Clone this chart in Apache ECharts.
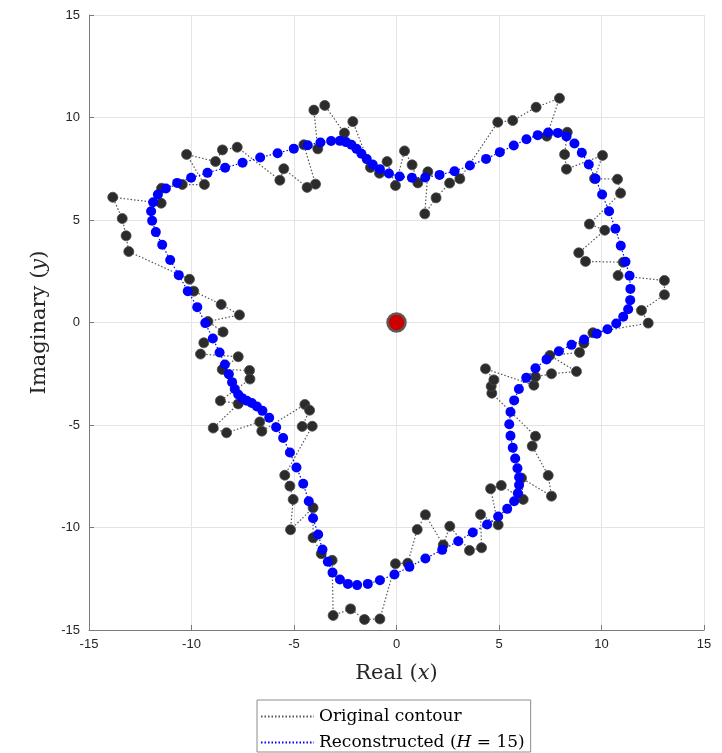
<!DOCTYPE html>
<html lang="en">
<head>
<meta charset="UTF-8">
<title>Contour reconstruction</title>
<script src="https://cdn.jsdelivr.net/npm/echarts/dist/echarts.min.js"></script>
<style>
  html, body { margin: 0; padding: 0; background: #fff; }
  #main { width: 722px; height: 753px; }
</style>
</head>
<body>
<div id="main"></div>
<script>
// original (noisy) contour, in drawing order
var origX = [12.28, 11.95, 13.07, 13.07, 10.81, 11.06, 9.22, 8.89, 10.16, 9.41,
  10.93, 10.78, 9.66, 10.05, 8.29, 8.2, 8.33, 7.33, 7.95, 6.81,
  5.67, 4.94, 3.09, 2.59, 1.93, 1.38, 1.53, 1.04, 0.76, 0.39,
  -0.05, -0.46, -0.83, -1.27, -2.13, -2.54, -3.5, -4.03, -3.84, -4.52,
  -3.95, -4.36, -5.5, -5.69, -7.77, -8.49, -8.83, -10.24, -9.37, -10.45,
  -11.46, -11.48, -13.84, -13.38, -13.19, -13.06, -10.1, -9.89, -8.55, -7.66,
  -9.2, -8.46, -9.4, -9.56, -7.72, -8.5, -7.17, -7.15, -8.59, -7.72,
  -8.94, -8.29, -6.67, -6.57, -4.47, -4.24, -4.6, -4.11, -5.45, -5.2,
  -5.04, -5.17, -4.07, -4.07, -3.67, -3.14, -3.09, -2.24, -1.56, -0.81,
  -0.05, 0.55, 1.01, 1.41, 2.28, 2.6, 3.56, 4.15, 4.1, 4.96,
  4.59, 5.11, 6.18, 6.1, 7.56, 7.4, 6.62, 6.78, 4.65, 4.62,
  4.75, 4.34, 6.7, 6.78, 7.56, 8.78, 7.48, 8.93, 9.14, 9.58];
var origY = [-0.03, 0.59, 1.35, 2.05, 2.29, 2.94, 2.98, 3.4, 4.5, 4.8,
  6.31, 6.99, 7.02, 8.15, 7.48, 8.2, 9.28, 9.09, 10.94, 10.5,
  9.85, 9.77, 7.01, 6.8, 6.08, 5.3, 7.35, 6.81, 7.69, 8.37,
  6.68, 7.85, 7.28, 7.56, 9.8, 9.24, 10.59, 10.36, 8.47, 8.67,
  6.75, 6.59, 7.5, 6.94, 8.55, 8.42, 7.85, 8.2, 6.73, 6.73,
  6.55, 5.82, 6.11, 5.07, 4.23, 3.46, 2.11, 1.53, 0.88, 0.37,
  0.05, -0.46, -0.99, -1.54, -1.67, -2.29, -2.34, -2.76, -3.82, -3.97,
  -5.15, -5.38, -4.85, -5.3, -4.0, -4.28, -5.07, -5.06, -7.45, -7.98,
  -8.63, -10.11, -9.04, -10.5, -11.28, -11.6, -14.29, -13.97, -14.49, -14.46,
  -11.77, -11.74, -10.1, -9.38, -10.85, -9.94, -11.12, -10.99, -9.37, -9.87,
  -8.11, -7.95, -8.63, -7.59, -8.47, -7.46, -6.03, -5.55, -3.45, -3.11,
  -2.8, -2.26, -3.06, -2.65, -2.5, -2.39, -1.61, -1.46, -1.01, -0.5];

// reconstructed contour (H = 15)
var reconX = [10.72, 11.06, 11.3, 11.4, 11.41, 11.37, 11.17, 10.94, 10.68, 10.37,
  10.03, 9.71, 9.38, 9.04, 8.68, 8.29, 7.87, 7.4, 6.89, 6.34,
  5.72, 5.04, 4.37, 3.58, 2.83, 2.1, 1.4, 0.75, 0.15, -0.37,
  -0.81, -1.16, -1.45, -1.71, -1.95, -2.2, -2.46, -2.76, -3.19, -3.71,
  -4.33, -5.01, -5.8, -6.65, -7.51, -8.36, -9.22, -10.02, -10.7, -11.25,
  -11.64, -11.87, -11.97, -11.92, -11.74, -11.43, -11.04, -10.62, -10.18, -9.72,
  -9.33, -8.96, -8.63, -8.37, -8.18, -8.02, -7.89, -7.72, -7.53, -7.3,
  -7.06, -6.81, -6.54, -6.21, -5.87, -5.53, -5.2, -4.88, -4.55, -4.28,
  -4.07, -3.82, -3.61, -3.35, -3.12, -2.76, -2.37, -1.92, -1.4, -0.81,
  -0.1, 0.63, 1.41, 2.23, 3.01, 3.72, 4.42, 4.96, 5.4, 5.74,
  5.92, 5.98, 5.98, 5.9, 5.79, 5.67, 5.56, 5.5, 5.56, 5.74,
  5.97, 6.33, 6.78, 7.32, 7.92, 8.54, 9.15, 9.77, 10.29];
var reconY = [-0.05, 0.28, 0.65, 1.09, 1.64, 2.28, 2.96, 3.74, 4.57, 5.43,
  6.24, 7.01, 7.71, 8.28, 8.73, 9.07, 9.25, 9.27, 9.14, 8.94,
  8.63, 8.31, 7.98, 7.66, 7.38, 7.2, 7.07, 7.06, 7.12, 7.27,
  7.48, 7.71, 7.97, 8.23, 8.47, 8.67, 8.8, 8.86, 8.85, 8.78,
  8.65, 8.48, 8.26, 8.05, 7.79, 7.55, 7.3, 7.06, 6.81, 6.54,
  6.24, 5.87, 5.43, 4.96, 4.41, 3.79, 3.05, 2.31, 1.53, 0.75,
  -0.03, -0.78, -1.46, -2.05, -2.52, -2.91, -3.24, -3.51, -3.69, -3.82,
  -3.93, -4.1, -4.31, -4.65, -5.11, -5.63, -6.34, -7.07, -7.87, -8.72,
  -9.55, -10.34, -11.07, -11.67, -12.2, -12.54, -12.75, -12.81, -12.75, -12.57,
  -12.29, -11.92, -11.51, -11.09, -10.67, -10.24, -9.85, -9.46, -9.09, -8.72,
  -8.33, -7.93, -7.55, -7.11, -6.63, -6.11, -5.53, -4.96, -4.37, -3.8,
  -3.24, -2.7, -2.23, -1.8, -1.4, -1.09, -0.83, -0.55, -0.33];

var center = [0, 0];
var axisMin = -15, axisMax = 15, tickStep = 5;

var NAME_ORIG = 'Original contour';
var NAME_REC = 'Reconstructed (H = 15)';

var SERIF = 'DejaVu Serif';

function pairs(xs, ys) {
    var out = [];
    var n = Math.min(xs.length, ys.length);
    for (var i = 0; i < n; i++) out.push([xs[i], ys[i]]);
    return out;
}
function closed(pts) {
    return pts.concat([pts[0]]);
}

var origPts = pairs(origX, origY);
var reconPts = pairs(reconX, reconY);

var chart = echarts.init(document.getElementById('main'));

var axisCommon = {
    type: 'value',
    min: axisMin,
    max: axisMax,
    interval: tickStep,
    nameLocation: 'middle',
    nameTextStyle: {
        fontFamily: SERIF,
        fontSize: 21,
        color: '#262626',
        rich: {
            i: { fontFamily: SERIF, fontStyle: 'italic', fontSize: 21, color: '#262626' }
        }
    },
    axisLine: { show: true, onZero: false, lineStyle: { color: '#7a7a7a', width: 1 } },
    axisTick: { show: true, inside: true, length: 5, lineStyle: { color: '#7a7a7a' } },
    axisLabel: { fontFamily: 'Liberation Sans', fontSize: 13, color: '#262626' },
    splitLine: { show: true, lineStyle: { color: '#e4e4e4', width: 1 } }
};

var option = {
    animation: false,
    backgroundColor: '#ffffff',
    grid: { left: 89, right: 18, top: 15, bottom: 123 },
    xAxis: Object.assign({}, axisCommon, {
        name: 'Real ({i|x})',
        nameGap: 33,
        axisLabel: Object.assign({}, axisCommon.axisLabel, { margin: 8 })
    }),
    yAxis: Object.assign({}, axisCommon, {
        name: 'Imaginary ({i|y})',
        nameGap: 33,
        nameRotate: 90,
        axisLabel: Object.assign({}, axisCommon.axisLabel, { margin: 9 })
    }),
    legend: {
        data: [NAME_ORIG, NAME_REC],
        orient: 'vertical',
        left: 257,
        bottom: 1,
        itemWidth: 53,
        itemHeight: 16,
        itemGap: 9,
        padding: [8, 6, 1, 3],
        borderColor: '#8c8c8c',
        borderWidth: 1,
        borderRadius: 0,
        backgroundColor: '#fff',
        align: 'left',
        selectedMode: false,
        itemStyle: { opacity: 0 },
        textStyle: {
            fontFamily: SERIF,
            fontSize: 17,
            lineHeight: 16,
            color: '#000',
            rich: {
                t: { fontFamily: SERIF, fontSize: 17, lineHeight: 16, color: '#000' },
                i: { fontFamily: SERIF, fontStyle: 'italic', fontSize: 17, lineHeight: 16, color: '#000' }
            }
        },
        formatter: function (name) {
            if (name === NAME_REC) return '{t|Reconstructed (}{i|H}{t| = 15)}';
            return name;
        }
    },
    series: [
        {
            name: NAME_ORIG,
            type: 'line',
            data: closed(origPts),
            symbol: 'none',
            lineStyle: { color: '#555555', width: 1.2, type: [1.5, 2] },
            itemStyle: { color: '#555555' },
            z: 2
        },
        {
            name: 'origMarkers',
            type: 'scatter',
            data: origPts,
            symbolSize: 10,
            itemStyle: { color: '#2b2b2b', borderColor: '#4a4a4a', borderWidth: 0.8, opacity: 1 },
            z: 3
        },
        {
            name: NAME_REC,
            type: 'line',
            data: closed(reconPts),
            symbol: 'none',
            lineStyle: { color: '#0000ff', width: 1.2, type: [1.5, 2] },
            itemStyle: { color: '#0000ff' },
            z: 4
        },
        {
            name: 'reconMarkers',
            type: 'scatter',
            data: reconPts,
            symbolSize: 10,
            itemStyle: { color: '#0000ff', opacity: 1 },
            z: 5
        },
        {
            name: 'center',
            type: 'scatter',
            data: [center],
            symbolSize: 18,
            itemStyle: { color: '#cc0000', borderColor: '#5a5a5a', borderWidth: 2.5, opacity: 1 },
            z: 6
        }
    ]
};

chart.setOption(option);
</script>
</body>
</html>
